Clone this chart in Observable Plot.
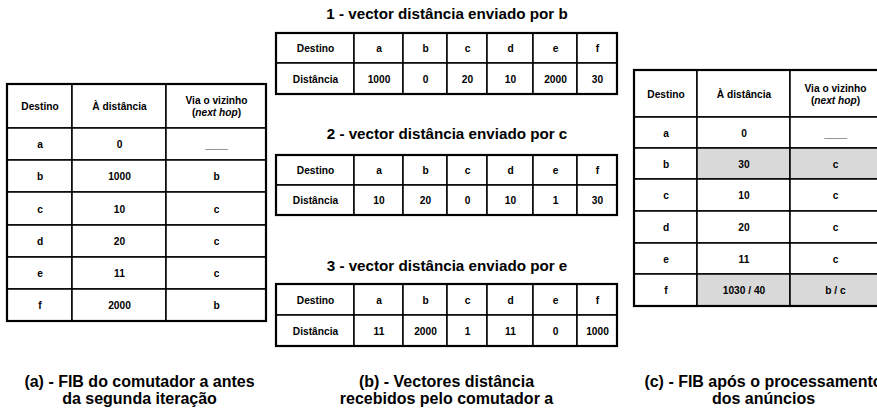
<!DOCTYPE html>
<html><head><meta charset="utf-8">
<script src="https://cdn.jsdelivr.net/npm/d3@7"></script>
<script src="https://cdn.jsdelivr.net/npm/@observablehq/plot@0.6"></script>
<style>body{margin:0;background:#fff}</style>
</head><body><div id="chart"></div>
<script>
// ---- data ----
const destinos = ["a","b","c","d","e","f"];
const fibHeader = ["Destino","À distância","Via o vizinho\n(next hop)"];
const fibAntesDist = ["0","1000","10","20","11","2000"];
const fibAntesVia = ["____","b","c","c","c","b"];
const fibDepoisDist = ["0","30","10","20","11","1030 / 40"];
const fibDepoisVia = ["____","c","c","c","c","b / c"];
const fibDepoisAlterado = [false,true,false,false,false,true];
const vectorRowLabels = ["Destino","Distância"];
const vectorTitulos = ["1 - vector distância enviado por b","2 - vector distância enviado por c","3 - vector distância enviado por e"];
const vectorB = [1000,0,20,10,2000,30];
const vectorC = [10,20,0,10,1,30];
const vectorE = [11,2000,1,11,0,1000];
const legendas = ["(a) - FIB do comutador a antes\nda segunda iteração","(b) - Vectores distância\nrecebidos pelo comutador a","(c) - FIB após o processamento\ndos anúncios"];

// ---- layout (pixels) ----
const fibAGrid = {cols:[7,72,166,266], rows:[84,128,160,192,225,257,289,321]};
const fibCGrid = {cols:[634,697,790,880], rows:[70,117,148,179,211,243,274,306]};
const vecCols = [276,354,403,447,487,533,577,617];
const vecRows = [[33,63,94],[155,185,215],[284,315,346]];
const titleY = [14,134,266];
const legendX = [139,446,763];
const legendY = 389.5;

const cells = [];
const frames = [];
function fibTable(grid, dist, via, changed) {
  const {cols, rows} = grid;
  frames.push({x1: cols[0], x2: cols[cols.length-1], y1: rows[0], y2: rows[rows.length-1]});
  fibHeader.forEach((h, j) => cells.push({x1: cols[j], x2: cols[j+1], y1: rows[0], y2: rows[1], text: h, fill: "#fff"}));
  destinos.forEach((d, i) => {
    const vals = [d, dist[i], via[i]];
    vals.forEach((v, j) => cells.push({x1: cols[j], x2: cols[j+1], y1: rows[i+1], y2: rows[i+2], text: v,
      fill: (changed && changed[i] && j > 0) ? "#d9d9d9" : "#fff"}));
  });
}
function vecTable(rows, values) {
  frames.push({x1: vecCols[0], x2: vecCols[vecCols.length-1], y1: rows[0], y2: rows[2]});
  const lines = [[vectorRowLabels[0], ...destinos], [vectorRowLabels[1], ...values.map(String)]];
  lines.forEach((line, r) => line.forEach((v, j) => cells.push({x1: vecCols[j], x2: vecCols[j+1], y1: rows[r], y2: rows[r+1], text: v, fill: "#fff"})));
}
fibTable(fibAGrid, fibAntesDist, fibAntesVia, null);
fibTable(fibCGrid, fibDepoisDist, fibDepoisVia, fibDepoisAlterado);
[vectorB, vectorC, vectorE].forEach((v, k) => vecTable(vecRows[k], v));

const titles = vectorTitulos.map((t, k) => ({x: (vecCols[0] + vecCols[vecCols.length-1]) / 2, y: titleY[k], text: t}));
const captions = legendas.map((t, k) => ({x: legendX[k], y: legendY, text: t}));

const chart = Plot.plot({
  width: 877, height: 412, margin: 0,
  x: {type: "identity", axis: null},
  y: {type: "identity", axis: null},
  style: {fontFamily: "'Liberation Sans', Arial, sans-serif", background: "#fff"},
  marks: [
    Plot.rect(cells, {x1: "x1", x2: "x2", y1: "y1", y2: "y2", fill: "fill", stroke: "#000", strokeWidth: 1.5}),
    Plot.rect(frames, {x1: "x1", x2: "x2", y1: "y1", y2: "y2", fill: "none", stroke: "#000", strokeWidth: 2.2}),
    Plot.text(cells, {x: d => (d.x1 + d.x2) / 2, y: d => (d.y1 + d.y2) / 2, text: "text", fontSize: 10.2, fontWeight: "bold", fill: "#000", lineHeight: 1.15}),
    Plot.text(titles, {x: "x", y: "y", text: "text", fontSize: 15.2, fontWeight: "bold", fill: "#000"}),
    Plot.text(captions, {x: "x", y: "y", text: "text", fontSize: 16, fontWeight: "bold", fill: "#000", lineHeight: 1.1, lineAnchor: "middle"})
  ]
});
d3.select(chart).selectAll("tspan").filter(function() { return this.textContent === "(next hop)"; }).each(function() {
  const t = d3.select(this);
  t.text(null);
  t.append("tspan").text("(");
  t.append("tspan").attr("font-style", "italic").text("next hop");
  t.append("tspan").text(")");
});
document.getElementById("chart").appendChild(chart);
</script>
</body></html>
